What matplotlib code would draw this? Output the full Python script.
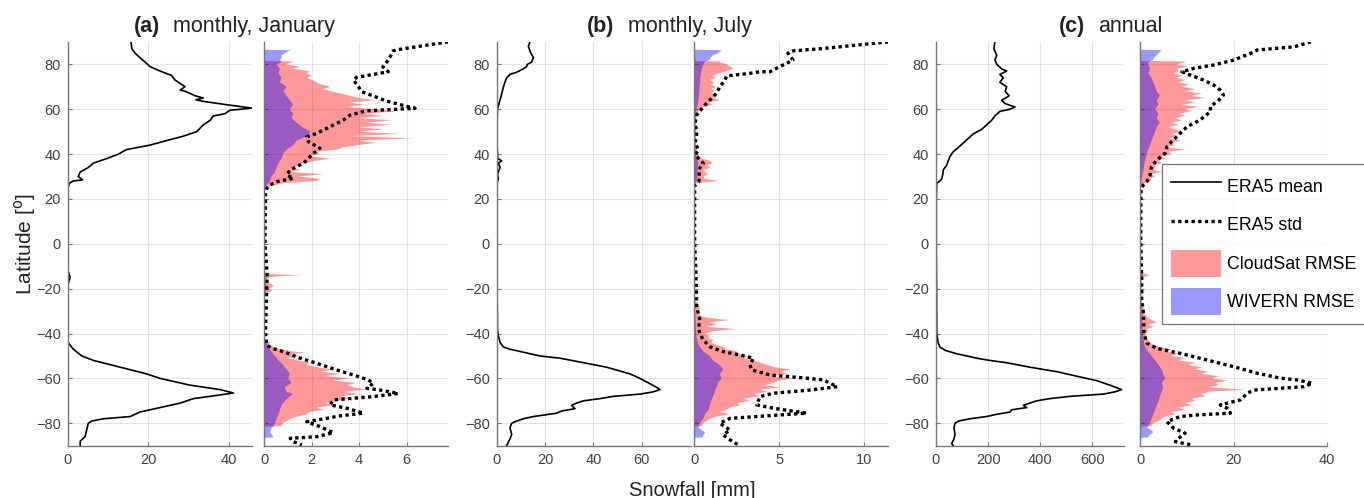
import matplotlib
matplotlib.use('Agg')
import matplotlib.pyplot as plt
from matplotlib.lines import Line2D
from matplotlib.patches import Patch

plt.rcParams['font.family'] = ['Liberation Sans', 'DejaVu Sans']

W, H = 1364, 498

# ---------------- ERA5 mean ----------------
jan_mean_lat = [90, 87, 85, 83, 81, 79, 77, 75, 73, 71, 70, 68.5, 68, 66, 65, 64.2, 63.5, 62, 60.5, 59.5,
                58, 57, 55, 53, 50, 48, 46, 44, 42, 40, 38, 36, 34, 32, 30, 28.5, 28, 27, 25, 10,
                0, -12, -15, -18, -30, -44, -47, -50, -52, -55, -58, -60, -63, -65, -66.5, -68, -69, -71, -73, -74,
                -75, -77, -78, -79, -80, -83, -86, -88, -90]
jan_mean = [15.7, 15.9, 16.7, 17.9, 19.2, 20.4, 22.9, 25.8, 26.6, 28.3, 29.1, 27.9, 29.1, 31.6, 33.6, 31.8, 33.6, 39.4, 45.6, 40.2,
            39.0, 36.1, 35.3, 33.6, 32.0, 28.7, 24.5, 20.4, 14.6, 12.6, 9.7, 6.4, 5.1, 3.1, 2.6, 3.7, 1.4, 0.4, 0.1, 0.05,
            0.05, 0.1, 0.6, 0.1, 0.05, 0.1, 1.4, 3.5, 6.4, 13.0, 19.6, 22.9, 30.3, 37.8, 41.1, 35.3, 31.2, 27.9, 22.9, 20.4,
            17.9, 15.5, 8.8, 6.0, 5.1, 4.7, 4.3, 3.1, 3.1]

jul_mean_lat = [90, 88, 85, 83, 81, 80, 79, 78, 76.5, 75.5, 74, 72, 70, 67, 63, 60, 50, 43, 38, 37,
                36, 34, 31, 29, 27, 0, -38, -41, -44, -46, -47, -48, -50, -51, -53, -55, -58, -60, -62, -64,
                -65, -66, -67, -68, -69, -70, -71, -72, -73.5, -74.5, -75.5, -77, -78, -79, -80, -82, -85, -87, -90]
jul_mean = [13.8, 13.1, 14.1, 15.2, 14.5, 12.7, 12.4, 11.0, 8.3, 5.5, 4.1, 3.4, 2.8, 2.1, 1.1, 0.3, 0.1, 0.2, 0.4, 2.1,
            0.7, 1.4, 0.3, 0.7, 0.1, 0.05, 0.3, 0.7, 1.4, 2.8, 5.5, 9.7, 17.9, 26.2, 35.9, 45.5, 55.2, 59.3, 62.8, 66.2,
            67.6, 64.8, 59.3, 48.3, 42.8, 35.9, 33.1, 31.0, 32.4, 26.9, 24.8, 15.2, 11.0, 8.3, 6.2, 5.5, 6.2, 5.5, 4.1]

ann_mean_lat = [90, 87, 84, 82, 80, 78, 77, 75.5, 74, 72, 70, 68, 66, 64, 62.5, 61, 60, 59, 57, 55,
                53, 51, 49, 47, 45, 43, 41, 39, 37, 35, 33, 31, 29, 28, 27, 20, 0, -20, -40, -44,
                -46, -47.5, -49, -50, -51, -52, -53, -55, -57, -59, -61, -63, -65, -66, -67, -68, -69, -70, -71, -72,
                -73, -74, -75, -76, -77, -78, -79, -80, -82, -85, -87, -89, -90]
ann_mean = [226, 222, 233, 226, 233, 252, 271, 245, 258, 245, 271, 265, 281, 252, 265, 303, 284, 245, 226, 213,
            194, 175, 143, 124, 105, 86, 66, 54, 47, 41, 28, 26, 22, 15, 3, 1, 1, 2, 3, 8,
            15, 35, 79, 118, 156, 207, 271, 360, 463, 539, 616, 667, 712, 686, 642, 514, 437, 386, 360, 335,
            348, 290, 284, 233, 194, 130, 86, 73, 69, 73, 69, 60, 66]

# ---------------- ERA5 std ----------------
jan_std_lat = [90, 86.5, 86, 81.9, 78.9, 76.7, 74.2, 73, 70, 67.8, 65.6, 63.6, 61.1, 60.4, 59.3, 57.4, 55.2, 52.2, 49.2, 47.7,
               45.5, 42.6, 40.3, 37.3, 35.9, 32.9, 30.6, 29.2, 27.7, 26.2, 24.7, 22, 0, -14, -40, -45.1, -46.6, -48.1, -51, -53.3,
               -56.2, -58.5, -60.7, -62.2, -64.4, -65.2, -66.7, -68.1, -69.6, -71.8, -73.3, -75.5, -76.7, -77.8, -79.3, -81.5, -84.2, -86, -86.7, -88.2,
               -89.7]
jan_std = [7.76, 5.6, 5.44, 5.23, 5.0, 5.23, 3.9, 3.76, 3.97, 4.11, 4.67, 5.16, 6.07, 6.36, 4.32, 3.62, 3.34, 2.77, 2.21, 1.79,
           1.86, 2.35, 2.07, 1.79, 1.65, 1.08, 0.95, 1.23, 0.52, 0.24, 0.1, 0.05, 0.03, 0.12, 0.05, 0.1, 0.32, 0.81, 1.52, 2.22,
           3.05, 3.76, 4.39, 4.6, 4.32, 4.88, 5.65, 4.6, 2.91, 2.77, 3.48, 4.18, 3.19, 2.63, 1.79, 2.35, 2.91, 2.21, 1.09, 1.23,
           1.58]

jul_std_lat = [90, 87, 86, 85, 81.9, 78.9, 76.7, 76.7, 76, 74.8, 73, 70, 67.1, 64.1, 61.1, 57.4, 54, 49, 45, 42,
               39.6, 35.9, 32.9, 29.2, 27.7, 26, 0, -10, -20, -28, -34, -37.8, -40, -42.9, -45.9, -48.1, -49.6, -51, -54, -56.2,
               -58.5, -59.9, -60.7, -63.7, -65.2, -66.6, -68.1, -71.8, -73.3, -75.5, -77, -77.8, -80, -83, -85.2, -87.4, -89.7]
jul_std = [11.4, 7.5, 5.8, 5.5, 5.8, 5.0, 4.45, 3.86, 3.27, 1.9, 1.8, 1.5, 1.3, 0.92, 0.53, 0.14, 0.05, 0.14, 0.05, 0.24,
           0.05, 0.53, 0.24, 0.33, 0.24, 0.02, 0.02, 0.08, 0.12, 0.14, 0.33, 0.24, 0.33, 0.53, 0.92, 1.7, 2.7, 3.47, 3.27, 3.37,
           4.45, 6.6, 7.6, 8.4, 6.8, 4.65, 3.86, 3.67, 4.65, 6.6, 3.67, 2.1, 1.5, 2.1, 1.7, 2.1, 2.6]

ann_std_lat = [90, 87.8, 86.4, 84.9, 81.9, 79.7, 78.2, 76.7, 75.2, 73, 70.8, 68.5, 66.3, 64.1, 61.1, 58.9, 55.2, 52.2, 49.2, 46.3,
               43.3, 40.3, 37.3, 34.4, 30.7, 27.7, 26.2, 24.7, 10, 0, -15, -25, -30.2, -40, -44.3, -46.6, -48.8, -51.8, -54.8, -57.7,
               -59.9, -60.7, -62.2, -63.7, -64.4, -65.2, -66.6, -69.6, -71.8, -73.3, -75.5, -76.3, -77, -79.3, -82.2, -84.4, -86.7, -88.2, -89.7]
ann_std = [36.5, 32.9, 25.0, 23.6, 20.0, 15.7, 11.4, 8.9, 10.7, 13.5, 15.7, 17.1, 17.8, 16.8, 15.0, 15.0, 12.8, 10.0, 8.5, 7.1,
           5.7, 5.3, 3.5, 2.4, 2.1, 1.4, 0.65, 0.15, 0.1, 0.1, 0.3, 0.3, 0.65, 0.8, 1.4, 3.5, 8.5, 14.3, 20.0, 25.0,
           30.0, 33.6, 36.8, 35.0, 30.0, 24.3, 22.9, 21.4, 17.1, 18.6, 19.3, 12.1, 8.5, 5.7, 7.1, 9.6, 8.2, 7.5, 11.0]

# ---------------- CloudSat RMSE ----------------
jan_cs_lat = [81.5, 81.3, 81, 80, 79, 78, 77, 76, 75, 74, 73, 72, 71, 70, 69, 68, 67, 66, 65, 64,
              63, 62, 61, 60, 59, 58, 57, 56, 55, 54, 53, 52, 51, 50, 49, 48, 47, 46, 45, 44,
              43, 42, 41, 40, 39, 38, 37, 36, 35, 34, 33, 32, 31, 30, 29, 28, 27, 26, 25, 24,
              -12.5, -13.5, -14, -14.5, -15, -16, -17, -18, -19, -20, -21, -22, -23,
              -42.5, -43, -44, -45, -46, -47, -48, -48.5, -49, -50, -51, -52, -53, -54, -55, -56, -57, -58, -59,
              -60, -61, -62, -63, -64, -65, -66, -67, -68, -69, -70, -71, -72, -73, -74, -75, -76, -77, -78, -79,
              -80, -81, -81.3, -81.5]
jan_cs = [0, 1.2, 1.2, 0.9, 1.5, 1.2, 1.9, 1.8, 2.0, 1.8, 2.0, 2.2, 2.4, 2.8, 2.5, 2.8, 3.2, 3.6, 4.0, 4.7,
          3.6, 4.2, 3.5, 4.7, 5.6, 4.2, 5.0, 4.0, 5.4, 4.3, 5.4, 4.0, 5.0, 4.0, 5.7, 3.6, 6.3, 4.0, 4.7, 4.0,
          3.3, 3.1, 2.2, 2.35, 1.9, 2.8, 2.2, 1.7, 1.5, 1.2, 1.5, 1.1, 2.5, 1.4, 2.35, 2.2, 0.8, 0.4, 0.03, 0,
          0, 0.3, 1.58, 0.6, 0.2, 0.1, 0.0, 0.3, 0.4, 0.2, 0.35, 0.1, 0,
          0, 0.1, 0.25, 0.17, 0.4, 0.66, 1.2, 1.8, 1.1, 1.5, 0.95, 1.4, 1.9, 1.8, 2.2, 2.9, 2.35, 3.2, 2.6,
          3.6, 2.9, 3.9, 3.5, 3.8, 4.3, 3.3, 4.0, 3.2, 3.6, 3.1, 2.6, 2.9, 2.2, 2.5, 1.9, 1.8, 1.4, 1.1, 0.95,
          0.8, 0.73, 0.7, 0]

jul_cs_lat = [81.5, 81.3, 81, 80, 79, 78, 77, 76, 75, 74, 73, 72, 71, 70, 69, 68, 67, 66, 65, 64,
              63, 62, 61, 60, 58, 55, 50, 45, 40, 38, 37, 36, 35, 34, 33, 32, 31, 30, 29, 28,
              27, 26.5, -25, -26, -28, -30, -32, -33, -34, -35, -36, -37, -38, -39, -40, -41, -42, -43, -44, -45,
              -46, -47, -48, -49, -50, -51, -52, -53, -54, -55, -56, -57, -58, -59, -60, -61, -62, -63, -64, -65,
              -66, -67, -68, -69, -70, -71, -72, -73, -74, -75, -76, -77, -78, -79, -80, -81, -81.3, -81.5]
jul_cs = [0, 1.5, 1.5, 1.9, 2.1, 2.3, 1.9, 1.5, 1.1, 1.3, 0.9, 1.2, 1.0, 1.3, 1.0, 1.2, 1.0, 1.4, 1.1, 1.5,
          0.8, 1.1, 0.5, 0.33, 0.15, 0.1, 0.12, 0.1, 0.15, 0.43, 0.92, 1.1, 0.73, 1.0, 0.53, 0.63, 0.82, 0.53, 0.63, 1.4,
          0.14, 0, 0, 0.14, 0.33, 0.24, 0.33, 0.73, 2.1, 0.9, 1.3, 0.73, 2.4, 1.1, 0.63, 0.92, 0.83, 1.1, 1.0, 1.3,
          1.7, 1.9, 2.5, 2.6, 3.1, 2.9, 3.5, 3.9, 4.3, 4.7, 5.65, 5.1, 5.45, 4.5, 5.85, 4.9, 4.7, 4.1, 5.1, 3.9,
          4.3, 3.5, 3.9, 2.9, 3.3, 2.5, 2.7, 2.1, 1.9, 1.5, 2.1, 1.3, 0.92, 0.73, 0.53, 0.43, 0.4, 0]

ann_cs_lat = [81.5, 81.3, 81, 80, 79, 78, 77, 76, 75, 74, 73, 72, 71, 70, 69, 68, 67, 66, 65, 64,
              63, 62, 61, 60, 59, 58, 57, 56, 55, 54, 53, 52, 51, 50, 49, 48, 47, 46, 45, 44,
              43, 42, 41, 40, 39, 38, 37, 36, 35, 34, 33, 32, 31, 30, 29, 28, 27, 26, 25, -12,
              -13, -14, -15, -16, -18, -20, -22, -24, -26, -28, -30, -31, -32, -33, -34, -35, -36, -37, -38, -39,
              -40, -41, -42, -43, -44, -45, -46, -47, -48, -49, -50, -51, -52, -53, -54, -55, -56, -57, -58, -59,
              -60, -61, -62, -63, -64, -65, -66, -67, -68, -69, -70, -71, -72, -73, -74, -75, -76, -77, -78, -79,
              -80, -81, -81.3, -81.5]
ann_cs = [0, 9.6, 9.6, 7.8, 10.3, 7.8, 8.2, 7.1, 8.9, 7.5, 9.6, 8.2, 10.3, 8.9, 11.8, 9.6, 13.2, 11.0, 13.9, 9.6,
          11.8, 8.9, 12.5, 9.6, 11.0, 8.2, 9.6, 7.5, 8.9, 6.7, 8.2, 6.0, 7.5, 8.9, 6.7, 8.2, 6.0, 8.9, 6.0, 7.5,
          5.3, 9.6, 6.0, 6.7, 4.6, 5.3, 3.9, 4.6, 3.2, 3.2, 2.8, 4.6, 2.4, 3.2, 2.1, 2.4, 1.0, 0.3, 0, 0,
          0.3, 2.1, 0.5, 0.3, 0.4, 0.3, 0.3, 0.2, 0.4, 0.6, 1.0, 0.8, 1.2, 1.7, 2.4, 3.5, 1.7, 2.8, 1.4, 1.7,
          1.0, 1.4, 1.4, 1.7, 2.1, 2.8, 3.9, 6.7, 5.3, 8.2, 6.7, 9.6, 8.2, 11.8, 10.3, 13.2, 11.8, 14.6, 13.2, 16.8,
          15.3, 18.6, 16.1, 16.8, 14.6, 22.5, 14.6, 13.2, 13.9, 11.0, 11.8, 9.6, 11.0, 8.2, 9.6, 6.7, 7.5, 5.3, 4.6, 3.9,
          2.8, 2.4, 2.3, 0]

# ---------------- WIVERN RMSE ----------------
jan_wv_lat = [86.5, 86.3, 85, 84, 83, 82, 81, 80, 78, 76, 74, 72, 70, 68, 66, 64, 62, 60, 58, 56,
              54, 52, 50, 48, 46, 44, 42, 40, 38, 36, 34, 32, 30, 28, 26, 25,
              -13, -14, -15, -16, -19, -21, -22,
              -43, -44, -46, -48, -50, -52, -54, -56, -58, -60, -62, -64, -66, -67, -68, -70, -72, -74, -76, -78, -80,
              -81.5, -82, -84, -85, -86, -86.3, -86.5]
jan_wv = [0, 1.1, 0.87, 0.73, 0.73, 0.66, 0.73, 0.52, 0.66, 0.6, 0.73, 0.66, 0.94, 0.8, 0.94, 1.08, 1.22, 1.08, 1.22, 1.15,
          1.37, 1.6, 1.95, 1.8, 1.37, 1.22, 0.94, 0.8, 0.73, 0.6, 0.52, 0.45, 0.31, 0.24, 0.1, 0,
          0, 0.15, 0.1, 0, 0.1, 0.08, 0,
          0, 0.1, 0.17, 0.3, 0.45, 0.6, 0.8, 0.94, 1.08, 1.0, 1.15, 0.87, 0.94, 1.22, 1.08, 0.87, 0.73, 0.66, 0.6, 0.52, 0.45,
          0.38, 0.31, 0.24, 0.31, 0.38, 0.38, 0]

jul_wv_lat = [86.5, 86.3, 85, 84, 83, 82, 81, 80, 78, 76, 74, 72, 70, 68, 66, 64, 62, 60, 55, 50,
              45, 40, 38, 36, 34, 32, 30, 28, 27, 26.5,
              -25, -30, -35, -40, -44, -46, -48, -50, -52, -54, -56, -58, -60, -62, -64, -66, -68, -70, -72, -74,
              -76, -78, -80, -82, -83, -84, -85.5, -86.3, -86.5]
jul_wv = [0, 1.6, 1.4, 1.1, 0.95, 0.9, 0.6, 0.55, 0.45, 0.4, 0.35, 0.35, 0.3, 0.3, 0.28, 0.25, 0.2, 0.12, 0.06, 0.05,
          0.05, 0.08, 0.15, 0.25, 0.22, 0.2, 0.18, 0.15, 0.05, 0,
          0, 0.05, 0.08, 0.1, 0.2, 0.33, 0.53, 0.92, 1.1, 1.5, 1.7, 1.5, 1.6, 1.4, 1.3, 1.2, 1.1, 1.0, 0.92, 0.83,
          0.63, 0.53, 0.33, 0.24, 0.43, 0.63, 0.53, 0.5, 0]

ann_wv_lat = [86.5, 86.3, 85, 84, 83, 82, 81, 80, 78, 76, 74, 72, 70, 68, 66, 64, 62, 60, 58, 56,
              54, 52, 50, 48, 46, 44, 42, 40, 38, 35, 32, 29, 26, 25,
              -12, -14, -16, -20, -25, -30, -35, -40, -44, -46, -48, -50, -52, -54, -56, -58, -60, -62, -64, -66,
              -68, -70, -72, -74, -76, -78, -80, -81, -82, -83, -84, -85, -86, -86.3, -86.5]
ann_wv = [0, 4.6, 4.0, 3.5, 3.0, 2.8, 1.8, 1.7, 2.1, 1.7, 2.4, 2.8, 3.2, 3.5, 4.2, 3.5, 3.9, 3.2, 3.9, 3.5,
          4.2, 3.5, 3.2, 2.8, 2.4, 2.1, 1.7, 1.4, 1.15, 0.85, 0.6, 0.3, 0.07, 0,
          0, 0.6, 0.2, 0.15, 0.15, 0.3, 0.4, 0.5, 0.8, 1.0, 1.7, 2.4, 3.2, 3.9, 4.6, 4.9, 5.3, 4.6, 4.9, 4.6,
          4.2, 3.9, 3.5, 3.2, 2.8, 2.4, 2.1, 1.7, 1.4, 2.4, 2.8, 2.1, 1.7, 1.7, 0]

panels = [
    dict(tag='(a)', title='monthly, January', tag_x=160, title_x=173,
         mean=(jan_mean_lat, jan_mean), std=(jan_std_lat, jan_std),
         cs=(jan_cs_lat, jan_cs), wv=(jan_wv_lat, jan_wv),
         left_px=(67.7, 252.0), right_px=(264.3, 448.3),
         xlim_mean=45.7, xlim_std=7.76, ticks_mean=[0, 20, 40], ticks_std=[0, 2, 4, 6]),
    dict(tag='(b)', title='monthly, July', tag_x=614, title_x=627.5,
         mean=(jul_mean_lat, jul_mean), std=(jul_std_lat, jul_std),
         cs=(jul_cs_lat, jul_cs), wv=(jul_wv_lat, jul_wv),
         left_px=(496.7, 690.7), right_px=(694.3, 888.3),
         xlim_mean=80.3, xlim_std=11.4, ticks_mean=[0, 20, 40, 60], ticks_std=[0, 5, 10]),
    dict(tag='(c)', title='annual', tag_x=1085.5, title_x=1098,
         mean=(ann_mean_lat, ann_mean), std=(ann_std_lat, ann_std),
         cs=(ann_cs_lat, ann_cs), wv=(ann_wv_lat, ann_wv),
         left_px=(936.0, 1123.7), right_px=(1140.3, 1327.3),
         xlim_mean=720, xlim_std=40, ticks_mean=[0, 200, 400, 600], ticks_std=[0, 20, 40]),
]

TOP, BOT = 41.9, 445.7
SPINE = '#777777'
GRID = '#e3e3e3'
TXT = '#404040'


def make_axes(fig, x0, x1):
    ax = fig.add_axes([x0 / W, 1 - BOT / H, (x1 - x0) / W, (BOT - TOP) / H])
    ax.set_ylim(-90, 90)
    ax.set_yticks(range(-80, 81, 20))
    for s in ['top', 'right']:
        ax.spines[s].set_visible(False)
    for s in ['left', 'bottom']:
        ax.spines[s].set_color(SPINE)
        ax.spines[s].set_linewidth(1.0)
    ax.grid(True, color=GRID, linewidth=0.8)
    ax.set_axisbelow(True)
    ax.tick_params(direction='in', length=3, color=SPINE, labelsize=10.5,
                   labelcolor=TXT, pad=5)
    return ax


fig = plt.figure(figsize=(W / 100, H / 100), dpi=100)

for p in panels:
    axm = make_axes(fig, *p['left_px'])
    axm.plot(p['mean'][1], p['mean'][0], color='black', linewidth=1.2)
    axm.set_xlim(0, p['xlim_mean'])
    axm.set_xticks(p['ticks_mean'])

    axs = make_axes(fig, *p['right_px'])
    axs.fill_betweenx(p['cs'][0], 0, p['cs'][1], facecolor='red', alpha=0.4, linewidth=0)
    axs.fill_betweenx(p['wv'][0], 0, p['wv'][1], facecolor='blue', alpha=0.4, linewidth=0)
    axs.plot(p['std'][1], p['std'][0], color='black', linewidth=2.4,
             linestyle=(0, (1, 1)), dash_capstyle='butt')
    axs.set_xlim(0, p['xlim_std'])
    axs.set_xticks(p['ticks_std'])
    axs.set_yticklabels([])

    fig.text(p['tag_x'] / W, 1 - 32 / H, p['tag'], ha='right', va='baseline',
             fontsize=15.5, fontweight='bold', color='#222222')
    fig.text(p['title_x'] / W, 1 - 32 / H, p['title'], ha='left', va='baseline',
             fontsize=15.5, color='#222222')

fig.text(25 / W, 1 - 244 / H, 'Latitude [$^{\\rm o}$]', rotation=90, ha='center', va='center',
         fontsize=15, color='#222222')
fig.text(692 / W, 1 - 496 / H, 'Snowfall [mm]', ha='center', va='baseline',
         fontsize=14.5, color='#222222')

handles = [Line2D([], [], color='black', linewidth=1.2),
           Line2D([], [], color='black', linewidth=2.4, linestyle=(0, (1, 1)), dash_capstyle='butt'),
           Patch(facecolor='red', alpha=0.4, linewidth=0),
           Patch(facecolor='blue', alpha=0.4, linewidth=0)]
labels = ['ERA5 mean', 'ERA5 std', 'CloudSat RMSE', 'WIVERN RMSE']
leg = fig.legend(handles, labels, loc='upper left', bbox_to_anchor=(1162 / W, 1 - 164 / H),
                 fontsize=12.8, frameon=True, fancybox=False, handlelength=2.8, handleheight=1.95,
                 handletextpad=0.35, labelspacing=0.65, borderpad=0.5, borderaxespad=0)
leg.get_frame().set_edgecolor('#555555')
leg.get_frame().set_linewidth(0.9)

fig.savefig('out.png', dpi=100)
